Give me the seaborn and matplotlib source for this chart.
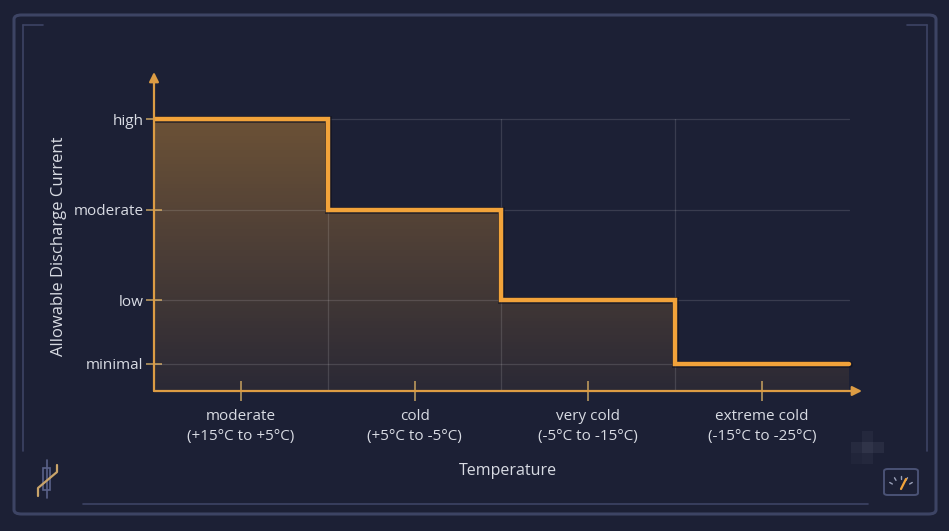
import numpy as np
import matplotlib.pyplot as plt
import seaborn as sns
from matplotlib.patches import FancyBboxPatch, Rectangle, Polygon
from matplotlib.colors import LinearSegmentedColormap
from matplotlib.lines import Line2D

# data
categories = ["moderate\n(+15°C to +5°C)", "cold\n(+5°C to -5°C)",
              "very cold\n(-5°C to -15°C)", "extreme cold\n(-15°C to -25°C)"]
level_names = ["minimal", "low", "moderate", "high"]
level_values = [0.3, 1, 2, 3]
current = [3, 2, 1, 0.3]   # allowable current level per temperature band

bg = "#1c2035"
orange = "#f2a33a"
axis_col = "#dc9c44"
text_col = "#d8dbe3"
frame_col = "#3d4464"

sns.set_theme(style="dark")
plt.rcParams['font.family'] = ['Open Sans', 'DejaVu Sans']

fig = plt.figure(figsize=(9.49, 5.31), dpi=100)
fig.patch.set_facecolor(bg)

W, H = 949, 531
def fx(px): return px / W
def fy(py): return 1 - py / H

# decorative frame
fig.patches.append(FancyBboxPatch((fx(14), fy(514)), fx(936) - fx(14), fy(15) - fy(514),
                                  boxstyle="round,pad=0,rounding_size=0.008",
                                  transform=fig.transFigure, fill=False,
                                  edgecolor=frame_col, lw=2.2))
for xs, ys in [((23, 23), (25, 451)), ((23, 43), (25, 25)),
               ((927, 927), (25, 451)), ((907, 927), (25, 25)),
               ((83, 868), (504, 504))]:
    fig.lines.append(Line2D([fx(x) for x in xs], [fy(y) for y in ys],
                            transform=fig.transFigure, color=frame_col, lw=1.2))

# axes
ax = fig.add_axes([fx(154), fy(391), fx(862) - fx(154), fy(72) - fy(391)])
ax.set_facecolor(bg)
xmax = 4.075
ymax = 3.52
ax.set_xlim(0, xmax)
ax.set_ylim(0, ymax)

edges = np.arange(len(current) + 1)
step_y = current + [current[-1]]

# gradient fill under the step line
verts = [(0, 0)]
for i, v in enumerate(current):
    verts += [(i, v), (i + 1, v)]
verts += [(len(current), 0)]
poly = Polygon(verts, closed=True, facecolor="none", edgecolor="none")
ax.add_patch(poly)
cmap = LinearSegmentedColormap.from_list(
    "fade", [(0.94, 0.64, 0.23, 0.07), (0.94, 0.64, 0.23, 0.38)])
grad = np.linspace(0, 1, 256).reshape(-1, 1)
img = ax.imshow(grad, extent=[0, 4, 0, max(current)], origin="lower",
                cmap=cmap, aspect="auto", zorder=1)
img.set_clip_path(poly)

# grid
for v in level_values:
    ax.plot([0, 4], [v, v], color="#ffffff", alpha=0.13, lw=0.9, zorder=2)
for b in edges[1:-1]:
    ax.plot([b, b], [0, max(current)], color="#ffffff", alpha=0.13, lw=0.9, zorder=2)

# dark halo under the step line, then the line
ax.plot(edges, step_y, drawstyle="steps-post", color="#101220", lw=5.0,
        alpha=0.6, zorder=3, solid_joinstyle="miter")
sns.lineplot(x=edges, y=step_y, drawstyle="steps-post", color=orange,
             lw=3.2, ax=ax, zorder=4, solid_joinstyle="miter")

for s in ax.spines.values():
    s.set_visible(False)
ax.annotate("", xy=(1, 0), xytext=(0, 0), xycoords="axes fraction",
            arrowprops=dict(arrowstyle="-|>", color=axis_col, lw=1.6,
                            mutation_scale=14, shrinkA=0, shrinkB=0), zorder=5)
ax.annotate("", xy=(0, 1), xytext=(0, 0), xycoords="axes fraction",
            arrowprops=dict(arrowstyle="-|>", color=axis_col, lw=1.6,
                            mutation_scale=14, shrinkA=0, shrinkB=0), zorder=5)

ax.set_yticks(level_values)
ax.set_yticklabels(level_names)
ax.set_xticks(np.arange(len(categories)) + 0.5)
ax.set_xticklabels(categories, linespacing=1.45)
ax.tick_params(axis="y", direction="inout", length=11, width=1.2,
               color="#b8975f", labelcolor=text_col, labelsize=11, pad=2, left=True)
ax.tick_params(axis="x", direction="inout", length=14, width=1.2,
               color="#b8975f", labelcolor=text_col, labelsize=11, pad=6, bottom=True)
ax.grid(False)

ax.set_xlabel("Temperature", color=text_col, fontsize=11.5, labelpad=14)
ax.set_ylabel("Allowable Discharge Current", color=text_col, fontsize=12)
ax.yaxis.set_label_coords(-0.1229, 0.455)

# thermistor icon bottom-left
icon = "#c9a46a"
fig.patches.append(Rectangle((fx(43), fy(490)), fx(50) - fx(43), fy(468) - fy(490),
                             transform=fig.transFigure, fill=False,
                             edgecolor="#5a6288", lw=1.2))
fig.lines.append(Line2D([fx(47), fx(47)], [fy(460), fy(498)], transform=fig.transFigure,
                        color="#5a6288", lw=1.2, zorder=0))
fig.lines.append(Line2D([fx(38), fx(38), fx(57), fx(57)], [fy(496), fy(488), fy(472), fy(465)],
                        transform=fig.transFigure, color=icon, lw=1.6))

# gauge icon bottom-right
fig.patches.append(FancyBboxPatch((fx(884), fy(495)), fx(918) - fx(884), fy(469) - fy(495),
                                  boxstyle="round,pad=0,rounding_size=0.004",
                                  transform=fig.transFigure, fill=False,
                                  edgecolor="#4a5275", lw=1.4))
cx, cy = 901, 489
for ang in np.linspace(150, 30, 5):
    a = np.radians(ang)
    fig.lines.append(Line2D([fx(cx + 10 * np.cos(a)), fx(cx + 13 * np.cos(a))],
                            [fy(cy - 10 * np.sin(a)), fy(cy - 13 * np.sin(a))],
                            transform=fig.transFigure, color="#9aa0b8", lw=1.0))
fig.lines.append(Line2D([fx(cx), fx(cx + 5)], [fy(cy), fy(cy - 10)],
                        transform=fig.transFigure, color=orange, lw=1.6))

# faint pixel blur near the right edge
for (px, py, a) in [(867, 436, 0.05), (856, 447, 0.06), (867, 447, 0.12),
                    (878, 447, 0.07), (867, 458, 0.05), (856, 458, 0.03)]:
    fig.patches.append(Rectangle((fx(px - 5.5), fy(py + 5.5)), fx(11), 11 / H,
                                 transform=fig.transFigure, facecolor="#c8cce0",
                                 alpha=a, edgecolor="none"))

fig.savefig("out.png", dpi=100, facecolor=bg)
